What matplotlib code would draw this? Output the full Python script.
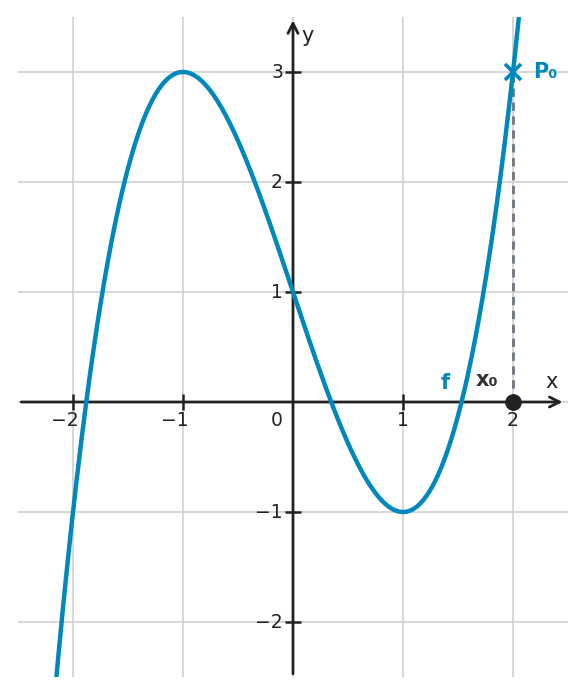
import numpy as np
import matplotlib.pyplot as plt

# polynomial: max (-1, 3), min (1, -1), f(0) = 1
coeffs = [1, 0, -3, 1]
x_ticks = [-2, -1, 1, 2]
y_ticks = [-2, -1, 1, 2, 3]
x0 = 2
p0 = 3

blue = '#0088bd'
dark = '#222222'

fig = plt.figure(figsize=(5.85, 6.95), dpi=100)
ax = fig.add_axes([18/585, 18/695, 550/585, 660/695])
ax.set_xlim(-2.5, 2.5)
ax.set_ylim(-2.5, 3.5)
for s in ax.spines.values():
    s.set_visible(False)
ax.set_xticks([])
ax.set_yticks([])

# grid
for g in [-2, -1, 0, 1, 2]:
    ax.axvline(g, color='#d3d3d3', lw=1.3, zorder=0)
for g in [-2, -1, 0, 1, 2, 3]:
    ax.axhline(g, color='#d3d3d3', lw=1.3, zorder=0)

# axes with arrows
ax.annotate('', xy=(2.45, 0), xytext=(-2.47, 0),
            arrowprops=dict(arrowstyle='->', color=dark, lw=2, mutation_scale=18, shrinkA=0, shrinkB=0))
ax.annotate('', xy=(0, 3.47), xytext=(0, -2.47),
            arrowprops=dict(arrowstyle='->', color=dark, lw=2, mutation_scale=18, shrinkA=0, shrinkB=0))
ax.plot(x_ticks, [0]*len(x_ticks), ls='none', marker='|', ms=11, mew=1.8, color=dark)
ax.plot([0]*len(y_ticks), y_ticks, ls='none', marker='_', ms=11, mew=1.8, color=dark)

for t in x_ticks:
    ax.annotate('\u2212%d' % -t if t < 0 else str(t), (t, 0), xytext=(6, -18),
                textcoords='offset pixels', ha='right', va='center', fontsize=13.5, color=dark)
ax.annotate('0', (0, 0), xytext=(-10, -18), textcoords='offset pixels',
            ha='right', va='center', fontsize=13.5, color=dark)
for t in y_ticks:
    ax.annotate('\u2212%d' % -t if t < 0 else str(t), (0, t), xytext=(-10, 0),
                textcoords='offset pixels', ha='right', va='center', fontsize=13.5, color=dark)

ax.text(2.35, 0.18, 'x', fontsize=15, color=dark, ha='center', va='center')
ax.text(0.13, 3.33, 'y', fontsize=15, color=dark, ha='center', va='center')

# curve
xs = np.linspace(-2.5, 2.5, 600)
ax.plot(xs, np.polyval(coeffs, xs), color=blue, lw=3.2, zorder=3)

# point and projection
ax.plot([x0, x0], [0, p0], color='#6e7580', lw=2, ls=(0, (3, 2)), zorder=2)
ax.plot(x0, 0, 'o', color=dark, ms=11, zorder=5)
ax.plot(x0, p0, 'x', color=blue, ms=11, mew=2.6, zorder=5)

ax.text(2.18, p0, 'P\u2080', fontsize=15, fontweight='bold', color=blue, va='center', ha='left')
ax.text(1.76, 0.2, 'x\u2080', fontsize=15, fontweight='bold', color='#333333', va='center', ha='center')
ax.text(1.38, 0.17, 'f', fontsize=15, fontweight='bold', color=blue, va='center', ha='center')

fig.savefig('out.png', dpi=100)
